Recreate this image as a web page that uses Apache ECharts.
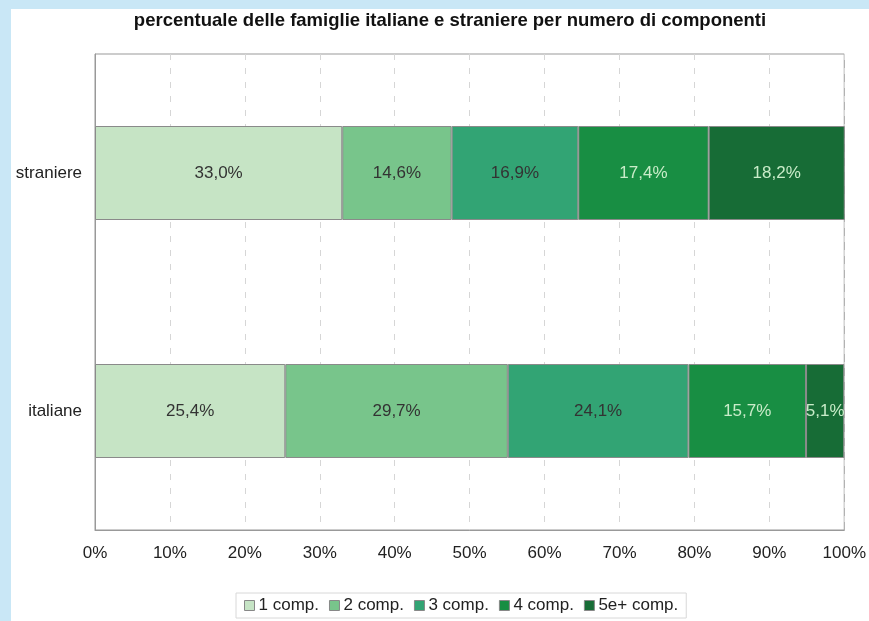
<!DOCTYPE html>
<html>
<head>
<meta charset="utf-8">
<script src="https://cdn.jsdelivr.net/npm/echarts@6/dist/echarts.min.js"></script>
<style>
html,body{margin:0;padding:0;background:#c9e7f6;}
#wrap{position:absolute;left:11px;top:9px;width:858px;height:612px;background:#ffffff;}
</style>
</head>
<body>
<div id="wrap"></div>
<div id="chart" style="position:absolute;left:0;top:0;width:869px;height:621px;"></div>
<script>
var categories = ['italiane', 'straniere'];
var seriesNames = ['1 comp.', '2 comp.', '3 comp.', '4 comp.', '5e+ comp.'];
var comp1 = [25.4, 33.0];
var comp2 = [29.7, 14.6];
var comp3 = [24.1, 16.9];
var comp4 = [15.7, 17.4];
var comp5 = [5.1, 18.2];
var xTicks = [0, 10, 20, 30, 40, 50, 60, 70, 80, 90, 100];

var colors = ['#c6e4c5', '#78c58b', '#32a474', '#188e43', '#176c36'];
var labelColors = ['#333333', '#333333', '#333333', '#c9ecc9', '#c9ecc9'];
var allData = [comp1, comp2, comp3, comp4, comp5];
var FONT = 'Liberation Sans, Arial, sans-serif';

var chart = echarts.init(document.getElementById('chart'));
var series = seriesNames.map(function (name, i) {
  return {
    name: name,
    type: 'bar',
    stack: 'total',
    barWidth: 94,
    data: allData[i],
    itemStyle: { color: colors[i], borderColor: '#8a8a8a', borderWidth: 1 },
    label: {
      show: true,
      position: 'inside',
      color: labelColors[i],
      fontFamily: FONT,
      fontSize: 17,
      formatter: function (p) { return p.value.toFixed(1).replace('.', ',') + '%'; }
    },
    emphasis: { disabled: true }
  };
});

chart.setOption({
  animation: false,
  backgroundColor: 'transparent',
  title: {
    text: 'percentuale delle famiglie italiane e straniere per numero di componenti',
    left: 445, top: 6, textAlign: 'center',
    textStyle: { fontFamily: FONT, fontSize: 18.5, fontWeight: 'bold', color: '#111' }
  },
  legend: {
    data: seriesNames,
    bottom: 3,
    left: 236,
    icon: 'rect',
    itemWidth: 10,
    itemHeight: 10,
    itemGap: 10,
    padding: [4, 8, 4, 8],
    borderColor: '#d8d8d8',
    borderWidth: 1,
    textStyle: { fontFamily: FONT, fontSize: 17, color: '#222', padding: [0, 0, 0, -1] },
    itemStyle: { borderColor: '#888', borderWidth: 1 }
  },
  grid: { left: 95, right: 22, top: 54, bottom: 91, containLabel: false, show: true, borderColor: '#999', borderWidth: 1 },
  xAxis: {
    type: 'value',
    min: 0, max: 100, interval: 10,
    axisLine: { show: true, lineStyle: { color: '#999' } },
    axisTick: { show: false },
    splitLine: { show: true, lineStyle: { color: '#d6d6d6', type: [6, 8] } },
    axisLabel: {
      margin: 15,
      fontFamily: FONT, fontSize: 17, color: '#222',
      formatter: function (v) { return xTicks.indexOf(v) >= 0 ? v + '%' : ''; }
    }
  },
  yAxis: {
    type: 'category',
    data: categories,
    axisLine: { show: true, lineStyle: { color: '#999' } },
    axisTick: { show: false },
    axisLabel: { margin: 13, fontFamily: FONT, fontSize: 17, color: '#222' }
  },
  series: series
});
</script>
</body>
</html>
